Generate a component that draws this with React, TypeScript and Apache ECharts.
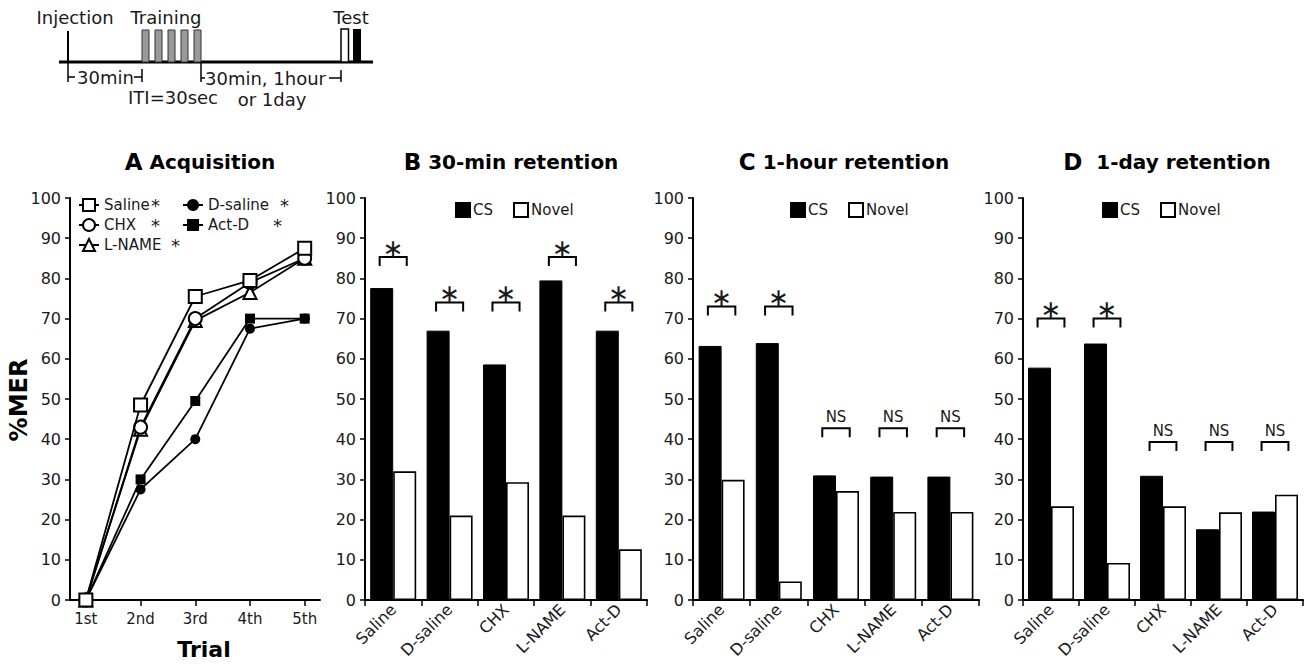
import React, { useEffect, useRef } from "react";
import * as echarts from "echarts";

const FONT = "DejaVu Sans";
const INK = "#1a1a1a";

// Panel A: acquisition curves
const trials = [1, 2, 3, 4, 5];
const trialLabels = ["1st", "2nd", "3rd", "4th", "5th"];
const salineAcq = [0, 48.5, 75.5, 79.5, 87.5];
const chxAcq = [0, 43, 70, 79, 85];
const lnameAcq = [0, 42.5, 69.5, 76.5, 85];
const dsalineAcq = [0, 27.5, 40, 67.5, 70];
const actdAcq = [0, 30, 49.5, 70, 70];

// Panels B-D: retention
const groups = ["Saline", "D-saline", "CHX", "L-NAME", "Act-D"];
const csB = [77.6, 67, 58.6, 79.5, 67];
const novelB = [32, 21, 29.3, 21, 12.6];
const csC = [63.2, 63.9, 31, 30.7, 30.7];
const novelC = [29.9, 4.6, 27.1, 21.9, 21.9];
const csD = [57.8, 63.8, 30.9, 17.6, 22];
const novelD = [23.3, 9.2, 23.3, 21.8, 26.2];

const sigB = ["∗", "∗", "∗", "∗", "∗"];
const bracketB = [85.3, 74, 74, 85.3, 74];
const sigC = ["∗", "∗", "NS", "NS", "NS"];
const bracketC = [73, 73, 42.7, 42.7, 42.7];
const sigD = ["∗", "∗", "NS", "NS", "NS"];
const bracketD = [70, 70, 39.3, 39.3, 39.3];

const yTicks = { min: 0, max: 100, interval: 10 };

const grids = [
  { left: 70, top: 198, width: 250, height: 402 },
  { left: 365, top: 198, width: 282, height: 402 },
  { left: 693, top: 198, width: 286, height: 402 },
  { left: 1023, top: 198, width: 280, height: 402 },
];

const axisLine = { show: true, lineStyle: { color: "#000", width: 2 } };
const axisTick = { show: true, length: 6, lineStyle: { color: "#000", width: 1.5 } };

function yAxis(gridIndex: number) {
  return {
    type: "value",
    gridIndex,
    ...yTicks,
    axisLine,
    axisTick: { ...axisTick, length: 5 },
    splitLine: { show: false },
    axisLabel: { fontFamily: FONT, fontSize: 16, color: INK, margin: 9 },
  };
}

function catAxis(gridIndex: number) {
  return {
    type: "category",
    gridIndex,
    data: groups,
    axisLine,
    axisTick: { ...axisTick, interval: 0 },
    axisLabel: { interval: 0, rotate: 45, fontFamily: FONT, fontSize: 16, color: INK, margin: 7 },
  };
}

function barSeries(idx: number, cs: number[], novel: number[]) {
  return [
    {
      type: "bar",
      name: "CS",
      xAxisIndex: idx,
      yAxisIndex: idx,
      data: cs,
      barWidth: 23,
      barGap: "0%",
      itemStyle: { color: "#000", borderColor: "#000", borderWidth: 1 },
    },
    {
      type: "bar",
      name: "Novel",
      xAxisIndex: idx,
      yAxisIndex: idx,
      data: novel,
      barWidth: 23,
      barGap: "0%",
      itemStyle: { color: "#fff", borderColor: "#000", borderWidth: 1.6 },
    },
  ];
}

function bracketSeries(idx: number, values: number[], labels: string[]) {
  return {
    type: "custom",
    name: "sig" + idx,
    xAxisIndex: idx,
    yAxisIndex: idx,
    data: values.map((v, i) => [i, v]),
    z: 5,
    renderItem: (params: any, api: any) => {
      const p = api.coord([api.value(0), api.value(1)]);
      const hw = api.size([1, 0])[0] * 0.24;
      const label = labels[params.dataIndex];
      const star = label !== "NS";
      return {
        type: "group",
        children: [
          {
            type: "polyline",
            shape: {
              points: [
                [p[0] - hw, p[1] + 9],
                [p[0] - hw, p[1]],
                [p[0] + hw, p[1]],
                [p[0] + hw, p[1] + 9],
              ],
            },
            style: { stroke: "#000", lineWidth: 2, fill: "none" },
          },
          {
            type: "text",
            x: p[0],
            y: p[1] - (star ? 9 : 11),
            style: {
              text: label,
              fontFamily: FONT,
              fontSize: star ? 25 : 15,
              fill: INK,
              align: "center",
              verticalAlign: "middle",
            },
          },
        ],
      };
    },
  };
}

function lineSeries(name: string, data: number[], symbol: string, filled: boolean, z: number) {
  return {
    type: "line",
    name,
    xAxisIndex: 0,
    yAxisIndex: 0,
    data: trials.map((t, i) => [t, data[i]]),
    symbol,
    symbolSize: filled ? 10 : 13,
    z,
    lineStyle: { color: "#000", width: 1.8 },
    itemStyle: { color: filled ? "#000" : "#fff", borderColor: "#000", borderWidth: filled ? 0 : 2 },
  };
}

const starRich = { fontFamily: FONT, fontSize: 18, color: INK, lineHeight: 15 };

function titleText(x: number, letter: string, rest: string) {
  return {
    type: "text",
    x,
    y: 162,
    style: {
      text: `{a|${letter}} {b|${rest}}`,
      fontFamily: FONT,
      fontSize: 20,
      fontWeight: "bold",
      fill: "#000",
      align: "center",
      verticalAlign: "middle",
      rich: {
        a: { fontFamily: FONT, fontSize: 23, fontWeight: "bold", fill: "#000" },
        b: { fontFamily: FONT, fontSize: 20, fontWeight: "bold", fill: "#000" },
      },
    },
  };
}

function txt(x: number, y: number, text: string, align = "center", size = 18) {
  return {
    type: "text",
    x,
    y,
    style: { text, fontFamily: FONT, fontSize: size, fill: INK, align, verticalAlign: "middle" },
  };
}

function ln(x1: number, y1: number, x2: number, y2: number, w = 1.5) {
  return { type: "line", shape: { x1, y1, x2, y2 }, style: { stroke: "#000", lineWidth: w } };
}

const trainingX = [142, 155, 168, 181, 194];

export default function App() {
  const ref = useRef<HTMLDivElement>(null);
  useEffect(() => {
    if (!ref.current) return;
    const chart = echarts.init(ref.current, undefined, { renderer: "svg" });

    const diagram: any[] = [
      txt(75, 17, "Injection"),
      txt(166, 17, "Training"),
      txt(351, 17, "Test"),
      ln(68, 31, 68, 62, 2),
      ln(59, 62, 373, 62, 3),
      ...trainingX.map((x) => ({
        type: "rect",
        shape: { x, y: 30, width: 7, height: 32 },
        style: { fill: "#9a9a9a", stroke: "#333", lineWidth: 1 },
      })),
      { type: "rect", shape: { x: 341, y: 29, width: 7.5, height: 33 }, style: { fill: "#fff", stroke: "#000", lineWidth: 1.5 } },
      { type: "rect", shape: { x: 353, y: 29, width: 8, height: 33 }, style: { fill: "#000" } },
      ln(68, 62, 68, 82),
      ln(68, 77, 75, 77),
      txt(77, 77, "30min", "left"),
      ln(134, 77, 142, 77),
      ln(142, 69, 142, 82),
      ln(201, 62, 201, 82),
      ln(201, 78, 205, 78),
      txt(205, 78, "30min, 1hour", "left"),
      ln(329, 78, 341, 78),
      ln(341, 70, 341, 82),
      txt(173, 97, "ITI=30sec"),
      txt(272, 99, "or 1day"),
    ];

    const option: any = {
      animation: false,
      backgroundColor: "#fff",
      textStyle: { fontFamily: FONT },
      grid: grids.map((g) => ({ ...g, containLabel: false })),
      xAxis: [
        {
          type: "value",
          gridIndex: 0,
          min: 0.71,
          max: 5.28,
          axisLine,
          axisTick: { ...axisTick, customValues: trials },
          splitLine: { show: false },
          axisLabel: {
            customValues: trials,
            formatter: (v: number) => trialLabels[Math.round(v) - 1] ?? "",
            fontFamily: FONT,
            fontSize: 15,
            color: INK,
            margin: 11,
          },
        },
        catAxis(1),
        catAxis(2),
        catAxis(3),
      ],
      yAxis: [yAxis(0), yAxis(1), yAxis(2), yAxis(3)],
      legend: [
        {
          orient: "vertical",
          left: 78,
          top: 196,
          padding: 0,
          itemWidth: 20,
          itemHeight: 15,
          itemGap: 2,
          data: ["Saline", "CHX", "L-NAME"],
          formatter: (name: string) => `{${name === "L-NAME" ? "w" : "n"}|${name}}{s|*}`,
          textStyle: {
            fontFamily: FONT,
            fontSize: 15,
            color: INK,
            rich: {
              n: { fontFamily: FONT, fontSize: 15, color: INK, width: 47, lineHeight: 15 },
              w: { fontFamily: FONT, fontSize: 15, color: INK, width: 67, lineHeight: 15 },
              s: starRich,
            },
          },
        },
        {
          orient: "vertical",
          left: 182,
          top: 196,
          padding: 0,
          itemWidth: 20,
          itemHeight: 15,
          itemGap: 2,
          data: ["D-saline", "Act-D"],
          formatter: (name: string) => `{${name === "D-saline" ? "d" : "a"}|${name}}{s|*}`,
          textStyle: {
            fontFamily: FONT,
            fontSize: 15,
            color: INK,
            rich: {
              d: { fontFamily: FONT, fontSize: 15, color: INK, width: 72, lineHeight: 15 },
              a: { fontFamily: FONT, fontSize: 15, color: INK, width: 65, lineHeight: 15 },
              s: starRich,
            },
          },
        },
        ...[455, 790, 1102].map((left) => ({
          left,
          top: 202,
          padding: 0,
          itemWidth: 14,
          itemHeight: 14,
          itemGap: 20,
          icon: "rect",
          data: ["CS", "Novel"],
          textStyle: { fontFamily: FONT, fontSize: 15, color: INK, padding: [0, 0, 0, -2] },
        })),
      ],
      graphic: [
        ...diagram,
        titleText(200, "A", "Acquisition"),
        titleText(511, "B", "30-min retention"),
        titleText(844, "C", "1-hour retention"),
        titleText(1167, "D", " 1-day retention"),
        {
          type: "text",
          x: 19,
          y: 400,
          rotation: Math.PI / 2,
          style: {
            text: "%MER",
            fontFamily: FONT,
            fontSize: 24,
            fontWeight: "bold",
            fill: "#000",
            align: "center",
            verticalAlign: "middle",
          },
        },
        {
          type: "text",
          x: 204,
          y: 649,
          style: {
            text: "Trial",
            fontFamily: FONT,
            fontSize: 22,
            fontWeight: "bold",
            fill: "#000",
            align: "center",
            verticalAlign: "middle",
          },
        },
      ],
      series: [
        lineSeries("Act-D", actdAcq, "rect", true, 2),
        lineSeries("D-saline", dsalineAcq, "circle", true, 3),
        lineSeries("L-NAME", lnameAcq, "triangle", false, 4),
        lineSeries("CHX", chxAcq, "circle", false, 5),
        lineSeries("Saline", salineAcq, "rect", false, 6),
        ...barSeries(1, csB, novelB),
        ...barSeries(2, csC, novelC),
        ...barSeries(3, csD, novelD),
        bracketSeries(1, bracketB, sigB),
        bracketSeries(2, bracketC, sigC),
        bracketSeries(3, bracketD, sigD),
      ],
    };
    chart.setOption(option);
    return () => chart.dispose();
  }, []);
  return (
    <div
      ref={ref}
      style={{ position: "absolute", left: 0, top: 0, width: 1311, height: 672, background: "#fff" }}
    />
  );
}
